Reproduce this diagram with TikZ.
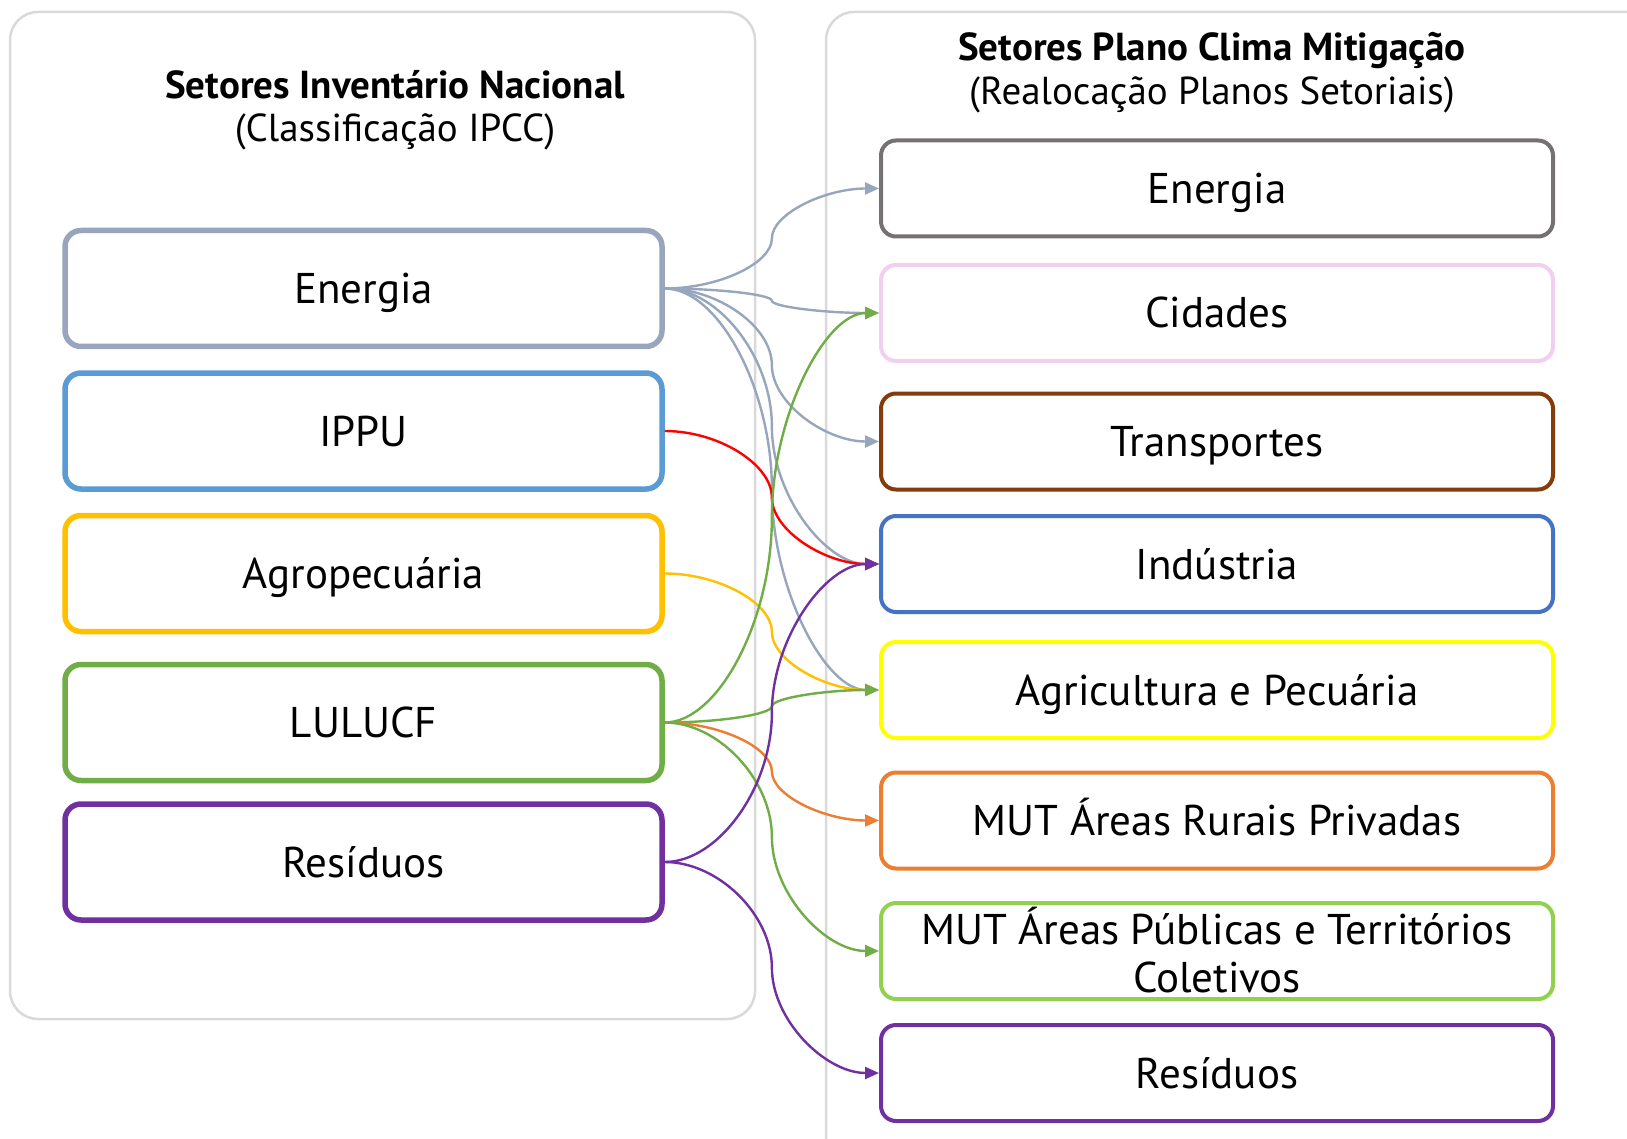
\documentclass[tikz,border=0pt]{standalone}
\usepackage{fontspec}
\setmainfont{PT Sans}
\usetikzlibrary{arrows.meta,calc}
\definecolor{cEnerL}{HTML}{97A6BD}
\definecolor{cIPPU}{HTML}{5B9BD5}
\definecolor{cAgro}{HTML}{FFC000}
\definecolor{cLulu}{HTML}{70AD47}
\definecolor{cResi}{HTML}{7030A0}
\definecolor{cEnerR}{HTML}{767171}
\definecolor{cCid}{HTML}{F2CEEF}
\definecolor{cTrans}{HTML}{843C0C}
\definecolor{cInd}{HTML}{4472C4}
\definecolor{cAgri}{HTML}{FFFF00}
\definecolor{cMutR}{HTML}{ED7D31}
\definecolor{cMutP}{HTML}{92D050}
\definecolor{cCont}{HTML}{D9D9D9}
\definecolor{cRed}{HTML}{FF0000}
\begin{document}
\begin{tikzpicture}[x=1pt,y=-1pt,
  cont/.style={draw=cCont,line width=2.5pt,rounded corners=28pt},
  lbox/.style={draw=#1,line width=5.5pt,rounded corners=16pt,minimum width=597pt,minimum height=116pt,inner sep=0pt,font=\fontsize{43}{48}\selectfont,align=center,text height=30pt,text depth=0pt},
  rbox/.style={draw=#1,line width=4pt,rounded corners=15pt,minimum width=672pt,minimum height=96pt,inner sep=0pt,font=\fontsize{43}{48}\selectfont,align=center,text height=30pt,text depth=0pt},
  ttl/.style={anchor=base,inner sep=0pt,font=\fontsize{39}{42}\selectfont\bfseries},
  sub/.style={anchor=base,inner sep=0pt,font=\fontsize{39}{42}\selectfont},
  elbow/.style={to path={let \p1=(\tikztostart), \p2=(\tikztotarget), \n1={0.5*(\x1+\x2)}, \n2={0.5*(\y1+\y2)}, \n3={0.75*\x1+0.25*\x2}, \n4={0.25*\x1+0.75*\x2}, \n5={0.75*\y1+0.25*\y2}, \n6={0.25*\y1+0.75*\y2} in .. controls (\n3,\y1) and (\n1,\n5) .. (\n1,\n2) .. controls (\n1,\n6) and (\n4,\y2) .. (\tikztotarget)}},
  conn/.style={draw=#1,line width=2.4pt,elbow,-{Triangle[length=14pt,width=12pt,fill=#1]}}
]
\useasboundingbox (0,0) rectangle (1627,1139);
\clip (0,0) rectangle (1627,1139);
\fill[white] (0,0) rectangle (1627,1139);
% containers
\draw[cont] (10,12) rectangle (755,1019);
\draw[cont] (826,12) rectangle (1680,1190);
% titles
\node[ttl] (tl1) at (395,99) {Setores Inventário Nacional};
\node[sub] (tl2) at (395,142) {(Classificação IPCC)};
\node[ttl] (tr1) at (1212,61) {Setores Plano Clima Mitigação};
\node[sub] (tr2) at (1212,105) {(Realocação Planos Setoriais)};
% left boxes
\node[lbox=cEnerL] (lE) at (363.5,288.5) {Energia};
\node[lbox=cIPPU] (lI) at (363.5,431) {IPPU};
\node[lbox=cAgro] (lA) at (363.5,573.5) {Agropecuária};
\node[lbox=cLulu] (lL) at (363.5,722.5) {LULUCF};
\node[lbox=cResi] (lR) at (363.5,862) {Resíduos};
% right boxes
\node[rbox=cEnerR] (rE) at (1217,188.5) {Energia};
\node[rbox=cCid] (rC) at (1217,313) {Cidades};
\node[rbox=cTrans] (rT) at (1217,441.5) {Transportes};
\node[rbox=cInd] (rI) at (1217,564) {Indústria};
\node[rbox=cAgri] (rA) at (1217,690) {Agricultura e Pecuária};
\node[rbox=cMutR] (rMR) at (1217,820.5) {MUT Áreas Rurais Privadas};
\node[rbox=cMutP,text height=82pt] (rMP) at (1217,951) {MUT Áreas Públicas e Territórios\\Coletivos};
\node[rbox=cResi] (rR) at (1217,1073) {Resíduos};
% connectors
\draw[conn=cEnerL] (lE.east) to (rE.west);
\draw[conn=cEnerL] (lE.east) to (rC.west);
\draw[conn=cEnerL] (lE.east) to (rT.west);
\draw[conn=cEnerL] (lE.east) to (rI.west);
\draw[conn=cEnerL] (lE.east) to (rA.west);
\draw[conn=cRed] (lI.east) to (rI.west);
\draw[conn=cAgro] (lA.east) to (rA.west);
\draw[conn=cLulu] (lL.east) to (rC.west);
\draw[conn=cLulu] (lL.east) to (rA.west);
\draw[conn=cMutR] (lL.east) to (rMR.west);
\draw[conn=cLulu] (lL.east) to (rMP.west);
\draw[conn=cResi] (lR.east) to (rI.west);
\draw[conn=cResi] (lR.east) to (rR.west);
\end{tikzpicture}
\end{document}
